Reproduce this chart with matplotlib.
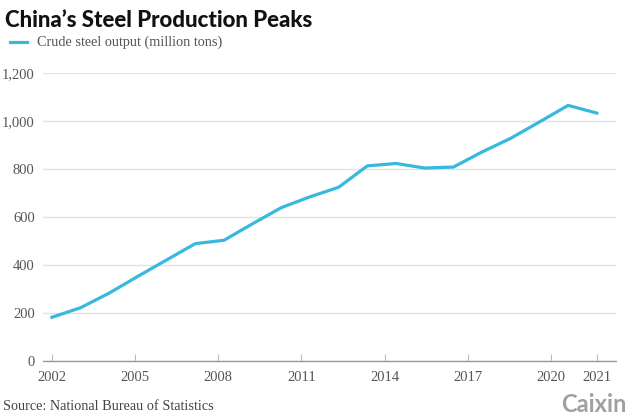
import matplotlib
matplotlib.use("Agg")
import matplotlib.pyplot as plt
import numpy as np

years = [2002, 2003, 2004, 2005, 2006, 2007, 2008, 2009, 2010, 2011,
         2012, 2013, 2014, 2015, 2016, 2017, 2018, 2019, 2020, 2021]
output = [182, 222, 283, 353, 421, 489, 503, 572, 639, 684,
          724, 813, 823, 804, 808, 871, 928, 996, 1065, 1033]
tick_labels = ["2002", "2005", "2008", "2011", "2014", "2017", "2020", "2021"]
y_ticks = [0, 200, 400, 600, 800, 1000, 1200]
series_name = "Crude steel output (million tons)"

# tick positions (layout): labels are spaced slightly tighter than data years in the original
tick_pos = [2002 + (int(t) - 2002) * 0.967 if t != "2021" else 2021 for t in tick_labels]

fig = plt.figure(figsize=(6.3, 4.19), dpi=100)
ax = fig.add_axes([43/630, 1 - 361/419, (616 - 43)/630, (361 - 73)/419])

color = "#37b9dd"
ax.plot(years, output, color=color, lw=2.3, solid_joinstyle="round", zorder=3)

ax.set_xlim(2001.69, 2021.67)
ax.set_ylim(0, 1200)
ax.set_yticks(y_ticks)
ax.set_yticklabels([f"{v:,}" for v in y_ticks])
ax.set_xticks(tick_pos)
ax.set_xticklabels(tick_labels)

serif = "Liberation Serif"
for lab in ax.get_yticklabels() + ax.get_xticklabels():
    lab.set_fontfamily(serif)
    lab.set_fontsize(10.5)
    lab.set_color("#555555")

ax.grid(axis="y", color="#e3e3e3", lw=1)
ax.set_axisbelow(True)
for s in ["top", "right", "left"]:
    ax.spines[s].set_visible(False)
ax.spines["bottom"].set_color("#9a9a9a")
ax.spines["bottom"].set_linewidth(1)
ax.tick_params(axis="y", length=0, pad=6)
ax.tick_params(axis="x", direction="in", length=5, color="#bbbbbb", pad=7)

fig.text(5/630, 1 - 27/419, "China\u2019s Steel Production Peaks", fontfamily="Lato",
         fontweight="black", fontsize=16, color="#111111", va="baseline")
fig.add_artist(plt.Line2D([10/630, 27/630], [1 - 42/419, 1 - 42/419], color=color, lw=2.3))
fig.text(37/630, 1 - 42/419, series_name, fontfamily=serif, fontsize=10.3,
         color="#555555", va="center")
fig.text(3/630, 1 - 406/419, "Source: National Bureau of Statistics", fontfamily=serif,
         fontsize=10.3, color="#444444", va="center")
fig.text(627/630, 1 - 404/419, "Caixin", fontfamily="Lato", fontweight="bold",
         fontsize=17, color="#a0a0a0", va="center", ha="right")

fig.savefig("out.png", dpi=100, facecolor="white")
